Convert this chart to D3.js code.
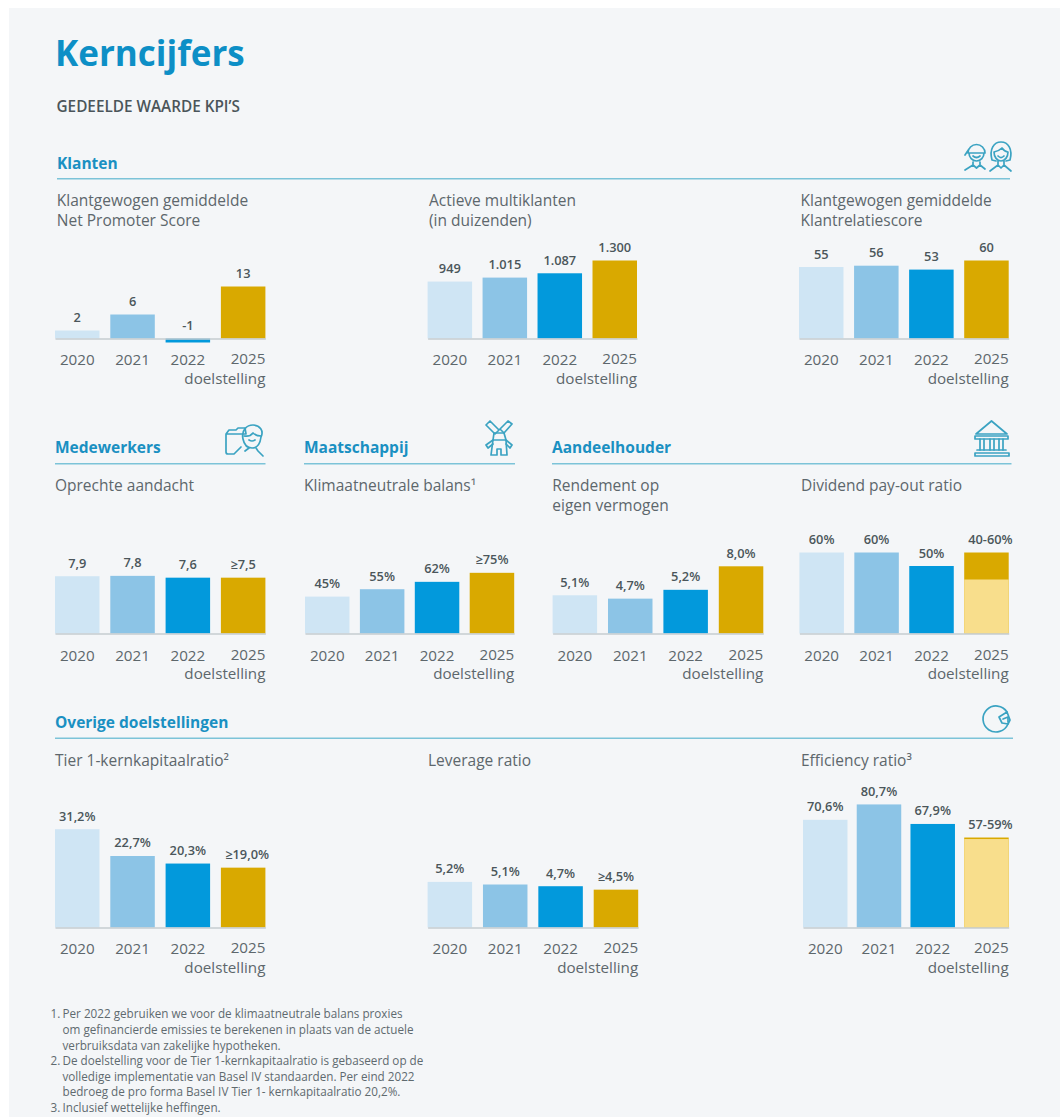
<!DOCTYPE html>
<html>
<head>
<meta charset="utf-8">
<title>Kerncijfers</title>
<script src="https://cdn.jsdelivr.net/npm/d3@7/dist/d3.min.js"></script>
<style>
	html, body { margin: 0; padding: 0; background: #fff; }
	svg { display: block; }
	text { font-family: "Open Sans", sans-serif; }
	.section { font-size: 15.5px; font-weight: 700; fill: #1a90c2; }
	.metric { font-size: 15.5px; fill: #5d676c; }
	.value { font-size: 12.8px; font-weight: 600; fill: #4b565b; text-anchor: middle; }
	.axis text { font-size: 15.2px; fill: #5d676c; }
	.note { font-size: 11.7px; fill: #5f6a6f; }
	.icon { fill: none; stroke: #3ba3c2; stroke-width: 1.7; stroke-linejoin: round; stroke-linecap: round; }
</style>
</head>
<body>
<script>

	var years = ["2020", "2021", "2022", "2025"];

	// bar values as drawn in the picture, labels as printed above the bars
	var npsValues = [2, 6, -1, 13];
	var npsLabels = ["2", "6", "-1", "13"];

	var multiValues = [949, 1015, 1087, 1300];
	var multiLabels = ["949", "1.015", "1.087", "1.300"];

	var relatieValues = [55, 56, 53, 60];
	var relatieLabels = ["55", "56", "53", "60"];

	var aandachtValues = [7.9, 7.95, 7.7, 7.7];
	var aandachtLabels = ["7,9", "7,8", "7,6", "≥7,5"];

	var klimaatValues = [45, 54, 63, 74];
	var klimaatLabels = ["45%", "55%", "62%", "≥75%"];

	var rendementValues = [4.55, 4.15, 5.2, 8.0];
	var rendementLabels = ["5,1%", "4,7%", "5,2%", "8,0%"];

	var dividendValues = [60, 60, 50, 60];
	var dividendLabels = ["60%", "60%", "50%", "40-60%"];
	var dividendRange = 40;

	var tierValues = [31.2, 22.7, 20.3, 19.0];
	var tierLabels = ["31,2%", "22,7%", "20,3%", "≥19,0%"];

	var leverageValues = [5.3, 5.0, 4.8, 4.4];
	var leverageLabels = ["5,2%", "5,1%", "4,7%", "≥4,5%"];

	var efficiencyValues = [70.6, 80.7, 67.9, 59];
	var efficiencyLabels = ["70,6%", "80,7%", "67,9%", "57-59%"];
	var efficiencyRange = 58;

	var footnotes = [
		["1.", "Per 2022 gebruiken we voor de klimaatneutrale balans proxies"],
		["", "om gefinancierde emissies te berekenen in plaats van de actuele"],
		["", "verbruiksdata van zakelijke hypotheken."],
		["2.", "De doelstelling voor de Tier 1-kernkapitaalratio is gebaseerd op de"],
		["", "volledige implementatie van Basel IV standaarden. Per eind 2022"],
		["", "bedroeg de pro forma Basel IV Tier 1- kernkapitaalratio 20,2%."],
		["3.", "Inclusief wettelijke heffingen."]
	];

	var colors = ["#cfe5f4", "#8cc4e6", "#0299dc", "#d9a900"];
	var rangeColor = "#f8de8c";

	var width = 1060, height = 1117, barWidth = 44.5;

	var svg = d3.select("body").append("svg")
		.attr("width", width)
		.attr("height", height);

	svg.append("rect")
		.attr("x", 9).attr("y", 8)
		.attr("width", width - 9).attr("height", height - 8)
		.attr("fill", "#f4f6f8");

	svg.append("text")
		.attr("x", 55).attr("y", 65.5)
		.style("font-size", "35px").style("font-weight", 700)
		.attr("fill", "#0d8fc6")
		.text("Kerncijfers");

	svg.append("text")
		.attr("x", 56.5).attr("y", 111.5)
		.style("font-size", "15.3px").style("font-weight", 600)
		.attr("fill", "#4b555a")
		.text("GEDEELDE WAARDE KPI’S");

	function section(name, x0, x1, yText, yRule) {
		svg.append("text").attr("class", "section")
			.attr("x", x0).attr("y", yText).text(name);
		svg.append("line")
			.attr("x1", x0).attr("x2", x1)
			.attr("y1", yRule).attr("y2", yRule)
			.attr("stroke", "#7cc3d8").attr("stroke-width", 1.5);
	}

	section("Klanten", 57, 1010, 169, 178.7);
	section("Medewerkers", 55, 265.5, 453.3, 463.7);
	section("Maatschappij", 304, 515, 453.3, 463.7);
	section("Aandeelhouder", 552, 1011.5, 453.3, 463.7);
	section("Overige doelstellingen", 55, 1013, 728.3, 738.3);

	function panel(o) {

		var step = (o.x1 - o.x0 - barWidth) / 3;

		var x = d3.scaleBand()
			.domain(years)
			.range([o.x0, o.x1])
			.paddingInner(1 - barWidth / step);

		var y = d3.scaleLinear()
			.domain([0, 1])
			.range([o.base, o.base - o.pxPerUnit]);

		var g = svg.append("g");

		// metric title, one or two lines
		o.title.forEach(function(t, i) {
			g.append("text").attr("class", "metric")
				.attr("x", o.titleX)
				.attr("y", o.titleY + i * 20)
				.text(t);
		});

		g.selectAll("rect.bar")
			.data(o.values)
			.enter().append("rect")
				.attr("class", "bar")
				.attr("x", function(d, i) { return x(years[i]); })
				.attr("width", x.bandwidth())
				.attr("y", function(d) { return y(Math.max(d, 0)); })
				.attr("height", function(d) { return Math.abs(y(d) - y(0)); })
				.attr("fill", function(d, i) { return colors[i]; });

		// target given as a range: pale part up to the lower bound
		if (o.range !== undefined) {
			g.append("rect")
				.attr("x", x("2025"))
				.attr("width", x.bandwidth())
				.attr("y", y(o.range))
				.attr("height", y(0) - y(o.range))
				.attr("fill", rangeColor);
		}

		var axis = d3.axisBottom(x).tickSize(0).tickPadding(0);

		var ag = g.append("g")
			.attr("class", "axis")
			.attr("transform", "translate(0," + y(0) + ")")
			.call(axis);

		ag.select(".domain")
			.attr("stroke", "#c6cdd1")
			.attr("stroke-width", 1.5);

		ag.selectAll(".tick text")
			.attr("dy", null)
			.attr("y", o.axisLabelY - y(0));

		// the 2025 label hangs right and has "doelstelling" underneath
		var last = ag.selectAll(".tick").filter(function(d) { return d === "2025"; });
		last.select("text")
			.attr("text-anchor", "end")
			.attr("x", barWidth / 2)
			.attr("y", o.axisLabelY - y(0) - 1);
		last.append("text")
			.attr("text-anchor", "end")
			.attr("x", barWidth / 2)
			.attr("y", o.axisLabelY - y(0) + 18.5)
			.attr("fill", "#5d676c")
			.text("doelstelling");

		g.selectAll("text.value")
			.data(o.labels)
			.enter().append("text")
				.attr("class", "value")
				.attr("x", function(d, i) { return x(years[i]) + x.bandwidth() / 2 + (d.length > 5 ? 4 : 0); })
				.attr("y", function(d, i) { return y(Math.max(o.values[i], 0)) - 8.5; })
				.text(function(d) { return d; });
	}

	// row 1
	panel({ title: ["Klantgewogen gemiddelde", "Net Promoter Score"], titleX: 56.8, titleY: 206,
		x0: 55, x1: 265.4, base: 338.5, pxPerUnit: 4, axisLabelY: 365, values: npsValues, labels: npsLabels });
	panel({ title: ["Actieve multiklanten", "(in duizenden)"], titleX: 429, titleY: 206,
		x0: 427.6, x1: 637, base: 338.5, pxPerUnit: 0.06, axisLabelY: 365, values: multiValues, labels: multiLabels });
	panel({ title: ["Klantgewogen gemiddelde", "Klantrelatiescore"], titleX: 800.5, titleY: 206,
		x0: 799, x1: 1008.7, base: 338.5, pxPerUnit: 1.3, axisLabelY: 365, values: relatieValues, labels: relatieLabels });

	// row 2
	panel({ title: ["Oprechte aandacht"], titleX: 55, titleY: 491,
		x0: 55, x1: 265.4, base: 633.5, pxPerUnit: 7.25, axisLabelY: 660.5, values: aandachtValues, labels: aandachtLabels });
	panel({ title: ["Klimaatneutrale balans¹"], titleX: 304, titleY: 491,
		x0: 305, x1: 514.2, base: 633.5, pxPerUnit: 0.82, axisLabelY: 660.5, values: klimaatValues, labels: klimaatLabels });
	panel({ title: ["Rendement op", "eigen vermogen"], titleX: 552.3, titleY: 491,
		x0: 552.6, x1: 763.3, base: 633.5, pxPerUnit: 8.4, axisLabelY: 660.5, values: rendementValues, labels: rendementLabels });
	panel({ title: ["Dividend pay-out ratio"], titleX: 801, titleY: 491,
		x0: 799.4, x1: 1008.7, base: 633.5, pxPerUnit: 1.35, axisLabelY: 660.5, values: dividendValues, labels: dividendLabels, range: dividendRange });

	// row 3
	panel({ title: ["Tier 1-kernkapitaalratio²"], titleX: 55, titleY: 765.7,
		x0: 55, x1: 265.4, base: 927.5, pxPerUnit: 3.15, axisLabelY: 954, values: tierValues, labels: tierLabels });
	panel({ title: ["Leverage ratio"], titleX: 428, titleY: 765.7,
		x0: 427.6, x1: 638.2, base: 927.5, pxPerUnit: 8.6, axisLabelY: 954, values: leverageValues, labels: leverageLabels });
	panel({ title: ["Efficiency ratio³"], titleX: 801, titleY: 765.7,
		x0: 803, x1: 1008.7, base: 927.5, pxPerUnit: 1.525, axisLabelY: 954, values: efficiencyValues, labels: efficiencyLabels, range: efficiencyRange });

	// footnotes
	footnotes.forEach(function(n, i) {
		var yy = 1018.3 + i * 15.6;
		if (n[0]) svg.append("text").attr("class", "note").attr("x", 50.5).attr("y", yy).text(n[0]);
		svg.append("text").attr("class", "note").attr("x", 62.5).attr("y", yy).text(n[1]);
	});

	// section icons, rough line drawings
	function icon(tx, ty, paths) {
		var g = svg.append("g").attr("class", "icon")
			.attr("transform", "translate(" + tx + "," + ty + ")");
		paths.forEach(function(p) { g.append("path").attr("d", p); });
	}

	// two people
	icon(963, 141, [
		"M5 12 a8.5 8.5 0 0 1 17 0 M2 14 L6 8 M6 12 L21 12 M6 12 a7.5 8 0 0 0 15 0 M10 21 L10 24 L2 29 M17 21 L17 24 L22 28 M10 24 L13.5 27 L17 24",
		"M10 15 q3.5 3 7 0",
		"M29 19 C26 8 31 1 38 1 C45 1 50 8 47 19 L43 20 M33 20 L29 19 M31 11 q5 -1 8 -4 q3 4 6 4 M31 11 a7 9 0 0 0 14 0 M35 20 L35 24 L27 30 M41 20 L41 24 L48 30 M35 24 L38 27 L41 24",
		"M35 15 q3 3 6 0"
	]);

	// employee with folder
	icon(225, 425, [
		"M1 9 L1 27 Q1 29 3 29 L9 29 L16 22 M1 9 L4 5 L11 5 L13 3 L20 3 L21 9 L1 9",
		"M18 14 C16 5 22 0 28 0 C35 0 39 6 36 12 C35 20 31 23 27 23 C22 23 19 19 18 14 Z",
		"M19 11 q6 1 9 -3 q3 3 8 3 M24 15 q3 2 6 0",
		"M24 23 L20 26 M31 23 L33 26 L38 31"
	]);

	// windmill
	icon(485, 420, [
		"M1 5 L5 1 L14 10 L10 14 Z M27 4 L23 1 L15 9 L19 13 Z",
		"M9 13 L19 13 L21 20 L8 20 Z M8 20 L1 25 L3 28 L8 24 M21 20 L27 25 L25 28 L21 24",
		"M8 20 L6 35 L12 35 L12 29 L16 29 L16 35 L22 35 L21 20"
	]);

	// bank building
	icon(973, 420, [
		"M18.5 1 L34 14 L3 14 Z",
		"M2 16 L35 16 L35 19 L2 19 Z",
		"M7 19 L7 30 M11 19 L11 30 M17 19 L17 30 M21 19 L21 30 M26 19 L26 30 M30 19 L30 30",
		"M4 30 L33 30 M2 33 L36 33 L36 36 L2 36 Z"
	]);

	// pie chart with a slice out
	icon(983, 705, [
		"M24 7 A13 13 0 1 0 25 19",
		"M16 12 L24 7 L27 15 L25 19 L19 18 Z",
		"M20 14 L25 12 L25 17"
	]);

</script>
</body>
</html>
